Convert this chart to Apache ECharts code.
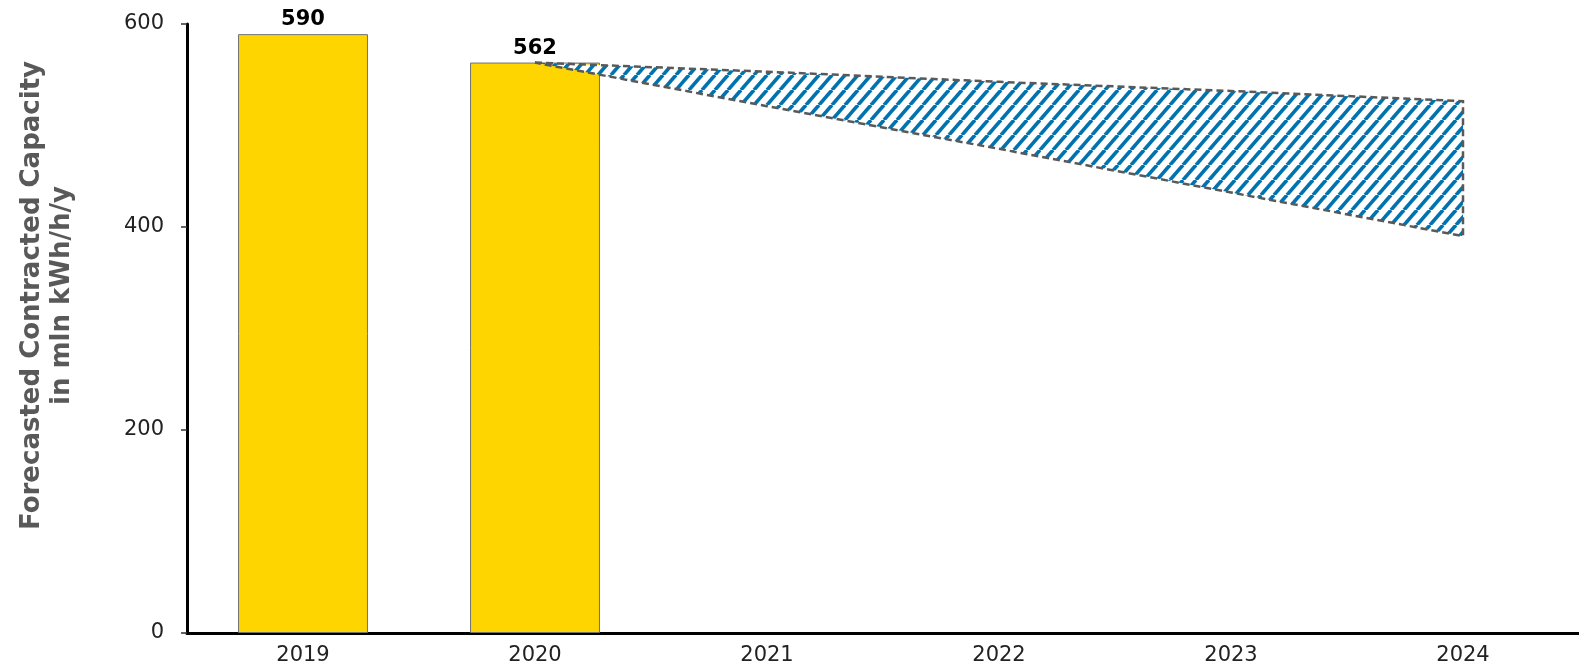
<!DOCTYPE html>
<html>
<head>
<meta charset="utf-8">
<script src="https://cdn.jsdelivr.net/npm/echarts@6/dist/echarts.min.js"></script>
<style>
html,body{margin:0;padding:0;background:#fff;}
#chart{width:1579px;height:668px;}
</style>
</head>
<body>
<div id="chart"></div>
<script>
// ---- data ----
var years = ['2019', '2020', '2021', '2022', '2023', '2024'];
var actualValues = [590, 562, null, null, null, null];
var bandYears = ['2020', '2021', '2022', '2023', '2024'];
var bandUpper = [562, 553, 543, 534, 524];
var bandLower = [562, 519, 477, 434, 391];
var yTicks = [0, 200, 400, 600];
var yTitle = 'Forecasted Contracted Capacity\nin mln kWh/h/y';

// ---- hatch pattern ----
function makeHatch() {
  var w = 13, h = 15;
  var c = document.createElement('canvas');
  c.width = w; c.height = h;
  var ctx = c.getContext('2d');
  ctx.fillStyle = '#ffffff';
  ctx.fillRect(0, 0, w, h);
  ctx.strokeStyle = '#0073AE';
  ctx.lineWidth = 3.6;
  for (var k = -1; k <= 1; k++) {
    ctx.beginPath();
    ctx.moveTo(k * w, h);
    ctx.lineTo(k * w + w, 0);
    ctx.stroke();
  }
  return c;
}
var hatch = makeHatch();

var chart = echarts.init(document.getElementById('chart'));
var font = 'DejaVu Sans';

chart.setOption({
  animation: false,
  backgroundColor: '#ffffff',
  grid: { left: 187, right: 0, top: 24, bottom: 35, containLabel: false, outerBoundsMode: 'none' },
  xAxis: {
    type: 'category',
    data: years,
    boundaryGap: true,
    axisLine: { show: true, lineStyle: { color: '#000', width: 3 } },
    axisTick: { show: false },
    axisLabel: { color: '#222', fontSize: 21, fontFamily: font, margin: 12 },
    splitLine: { show: false }
  },
  yAxis: {
    type: 'value',
    min: yTicks[0],
    max: yTicks[yTicks.length - 1],
    interval: 200,
    name: yTitle,
    nameLocation: 'middle',
    nameGap: 110,
    nameRotate: 90,
    nameTextStyle: { color: '#595959', fontSize: 26, fontWeight: 'bold', fontFamily: font, lineHeight: 30, align: 'center', padding: [0, 0, 0, 66] },
    axisLine: { show: true, lineStyle: { color: '#000', width: 3 } },
    axisTick: { show: true, length: 6, lineStyle: { color: '#333', width: 1.5 } },
    axisLabel: { color: '#222', fontSize: 21, fontFamily: font, margin: 23, padding: [6, 0, 0, 0] },
    splitLine: { show: false }
  },
  series: [
    {
      type: 'bar',
      data: actualValues,
      barWidth: '56%',
      itemStyle: { color: '#FFD500', borderColor: '#707070', borderWidth: 1 },
      label: { show: true, position: 'top', distance: 4, color: '#000', fontSize: 21, fontWeight: 'bold', fontFamily: font },
      z: 2
    },
    {
      type: 'custom',
      z: 5,
      data: bandYears.map(function (y, i) { return [y, bandUpper[i], bandLower[i]]; }),
      encode: { x: 0, y: [1, 2] },
      renderItem: function (params, api) {
        if (params.dataIndex !== 0) return null;
        var pts = [];
        for (var i = 0; i < bandYears.length; i++) {
          pts.push(api.coord([bandYears[i], bandUpper[i]]));
        }
        for (var j = bandYears.length - 1; j >= 0; j--) {
          pts.push(api.coord([bandYears[j], bandLower[j]]));
        }
        return {
          type: 'polygon',
          shape: { points: pts },
          style: {
            fill: { image: hatch, repeat: 'repeat' },
            stroke: '#595959',
            lineWidth: 2.5,
            lineDash: [7, 4]
          }
        };
      }
    }
  ]
});
</script>
</body>
</html>
